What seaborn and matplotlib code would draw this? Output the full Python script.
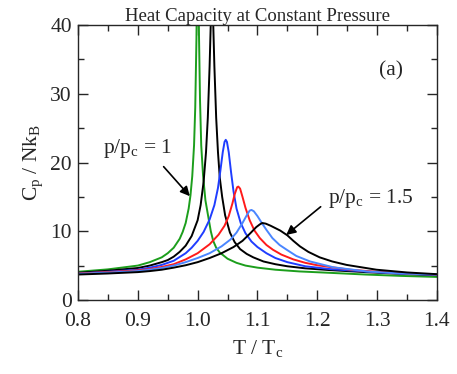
import matplotlib
matplotlib.use("Agg")
import matplotlib.pyplot as plt
import pandas as pd
import seaborn as sns

# curves (T/Tc, Cp/NkB), one pair of lists per pressure
t_green = [0.80, 0.85, 0.90, 0.92, 0.94, 0.95, 0.96, 0.97, 0.975, 0.98, 0.985, 0.988, 0.991,
           0.994, 0.996, 0.998, 0.9995, 1.0005, 1.002, 1.004, 1.006, 1.009, 1.013, 1.018,
           1.022, 1.026, 1.031, 1.037, 1.05, 1.065, 1.08, 1.10, 1.13, 1.17, 1.22, 1.28,
           1.34, 1.40]
cp_green = [4.1, 4.45, 5.0, 5.5, 6.2, 6.8, 7.6, 8.9, 9.9, 11.2, 13.3, 15.2, 18.0,
            22.5, 28, 38, 50, 50, 40, 29, 22.5, 18.2, 14.5, 12.0,
            10.0, 8.6, 7.6, 6.9, 6.0, 5.4, 5.0, 4.7, 4.4, 4.15, 3.95, 3.7,
            3.5, 3.35]

t_black1 = [0.80, 0.85, 0.90, 0.92, 0.94, 0.95, 0.96, 0.97, 0.98, 0.99, 1.0, 1.005, 1.01,
            1.014, 1.017, 1.02, 1.0225, 1.024, 1.0255, 1.028, 1.031, 1.034, 1.037, 1.041,
            1.046, 1.054, 1.062, 1.071, 1.082, 1.093, 1.11, 1.13, 1.15, 1.18, 1.22, 1.28,
            1.34, 1.40]
cp_black1 = [3.95, 4.25, 4.65, 5.0, 5.5, 5.8, 6.3, 7.0, 7.9, 9.3, 11.6, 13.8, 17.2,
             21.5, 26.5, 34, 42, 46, 42, 34, 26.5, 21.5, 17.8, 15.0,
             12.3, 9.8, 8.4, 7.4, 6.7, 6.2, 5.6, 5.2, 4.9, 4.6, 4.35, 4.05,
             3.8, 3.6]

t_blue = [0.80, 0.85, 0.90, 0.92, 0.94, 0.96, 0.98, 0.99, 1.0, 1.01, 1.02, 1.028, 1.034,
          1.038, 1.042, 1.045, 1.047, 1.049, 1.052, 1.056, 1.06, 1.065, 1.072, 1.08, 1.09,
          1.10, 1.115, 1.13, 1.15, 1.18, 1.22, 1.28, 1.34, 1.40]
cp_blue = [3.85, 4.1, 4.4, 4.7, 5.1, 5.7, 6.8, 7.6, 8.6, 9.9, 11.7, 13.8, 16.3,
           18.8, 21.5, 23.0, 23.3, 23.0, 21.5, 18.5, 15.8, 13.3, 11.2, 9.7, 8.5,
           7.7, 6.8, 6.1, 5.5, 4.9, 4.5, 4.15, 3.85, 3.65]

t_red = [0.80, 0.85, 0.90, 0.92, 0.94, 0.96, 0.98, 1.0, 1.02, 1.035, 1.045, 1.052, 1.058,
         1.062, 1.066, 1.068, 1.071, 1.075, 1.08, 1.087, 1.095, 1.104, 1.115, 1.126, 1.14,
         1.16, 1.18, 1.20, 1.255, 1.30, 1.35, 1.40]
cp_red = [3.85, 4.05, 4.3, 4.5, 4.8, 5.2, 5.9, 6.8, 8.1, 9.5, 10.8, 12.2, 14.0,
          15.4, 16.4, 16.5, 16.2, 15.0, 13.4, 11.6, 10.1, 9.0, 8.0, 7.3, 6.6,
          5.9, 5.4, 5.05, 4.4, 4.1, 3.85, 3.7]

t_lblue = [0.80, 0.85, 0.90, 0.92, 0.94, 0.96, 0.98, 1.0, 1.02, 1.04, 1.055, 1.065, 1.075,
           1.082, 1.087, 1.09, 1.094, 1.10, 1.108, 1.115, 1.125, 1.137, 1.149, 1.165, 1.188,
           1.227, 1.283, 1.34, 1.40]
cp_lblue = [3.8, 3.98, 4.2, 4.4, 4.65, 5.0, 5.5, 6.1, 6.8, 7.8, 8.8, 9.8, 11.2,
            12.3, 13.0, 13.1, 12.9, 12.2, 11.1, 10.2, 9.0, 8.0, 7.3, 6.4, 5.6,
            4.75, 4.15, 3.85, 3.7]

t_black2 = [0.80, 0.85, 0.90, 0.92, 0.94, 0.96, 0.98, 1.0, 1.02, 1.04, 1.06, 1.075, 1.088,
            1.098, 1.104, 1.108, 1.114, 1.122, 1.138, 1.15, 1.16, 1.171, 1.185, 1.204, 1.225,
            1.249, 1.299, 1.35, 1.40]
cp_black2 = [3.7, 3.85, 4.05, 4.2, 4.4, 4.7, 5.05, 5.5, 6.1, 6.8, 7.7, 8.6, 9.7,
             10.6, 11.0, 11.2, 11.1, 10.8, 10.1, 9.4, 8.6, 7.8, 7.0, 6.2, 5.6,
             5.1, 4.4, 4.0, 3.75]

curves = [
    (t_green, cp_green, "#1c9e1c"),
    (t_black1, cp_black1, "black"),
    (t_blue, cp_blue, "#1f3dff"),
    (t_red, cp_red, "#ff1a1a"),
    (t_lblue, cp_lblue, "#4a86ff"),
    (t_black2, cp_black2, "black"),
]

sns.set_style("ticks")
plt.rcParams["font.family"] = ["Liberation Serif", "DejaVu Serif"]
plt.rcParams["mathtext.fontset"] = "custom"
plt.rcParams["mathtext.rm"] = "Liberation Serif"
plt.rcParams["mathtext.it"] = "Liberation Serif:italic"

fig = plt.figure(figsize=(4.57, 3.74), dpi=100)
ax = fig.add_axes([0.1707, 0.198, 0.7853, 0.735])

for t, cp, col in curves:
    df = pd.DataFrame({"T": t, "Cp": cp})
    sns.lineplot(data=df, x="T", y="Cp", color=col, lw=1.4, ax=ax, sort=False)

ax.set_xlim(0.8, 1.4)
ax.set_ylim(0, 40)
ax.set_xticks([0.8, 0.9, 1.0, 1.1, 1.2, 1.3, 1.4])
ax.set_xticklabels(["0.8", "0.9", "1.0", "1.1", "1.2", "1.3", "1.4"])
ax.set_xticks([0.85, 0.95, 1.05, 1.15, 1.25, 1.35], minor=True)
ax.set_yticks([0, 10, 20, 30, 40])
ax.set_yticks([5, 15, 25, 35], minor=True)
ax.tick_params(which="both", direction="in", top=True, right=True, labelsize=15.5, width=1)
ax.tick_params(which="major", length=7)
ax.tick_params(which="minor", length=4)
ax.tick_params(axis="x", pad=9)
ax.tick_params(axis="y", pad=4.5)
for s in ax.spines.values():
    s.set_linewidth(1)

ax.set_xlabel(r"T / T$_{\mathrm{c}}$", fontsize=15.5, labelpad=5)
ax.set_ylabel(r"C$_{\mathrm{p}}$ / Nk$_{\mathrm{B}}$", fontsize=15.5, labelpad=4)
ax.set_title("Heat Capacity at Constant Pressure", fontsize=13.5, pad=3)

ax.text(1.323, 33.3, "(a)", fontsize=15.5, ha="center", va="center")
ax.annotate(r"p/p$_{\mathrm{c}}$ = 1", xy=(0.987, 15.1), xytext=(0.899, 22.0),
            fontsize=15.5, ha="center", va="center",
            arrowprops=dict(arrowstyle="-|>", color="black", lw=1.2, mutation_scale=14,
                            shrinkA=3, shrinkB=0, relpos=(0.8, 0.0)))
ax.annotate(r"p/p$_{\mathrm{c}}$ = 1.5", xy=(1.148, 9.45), xytext=(1.29, 14.8),
            fontsize=15.5, ha="center", va="center",
            arrowprops=dict(arrowstyle="-|>", color="black", lw=1.2, mutation_scale=14,
                            shrinkA=4, shrinkB=0, relpos=(0.0, 0.4)))

fig.savefig("out.png", dpi=100)
